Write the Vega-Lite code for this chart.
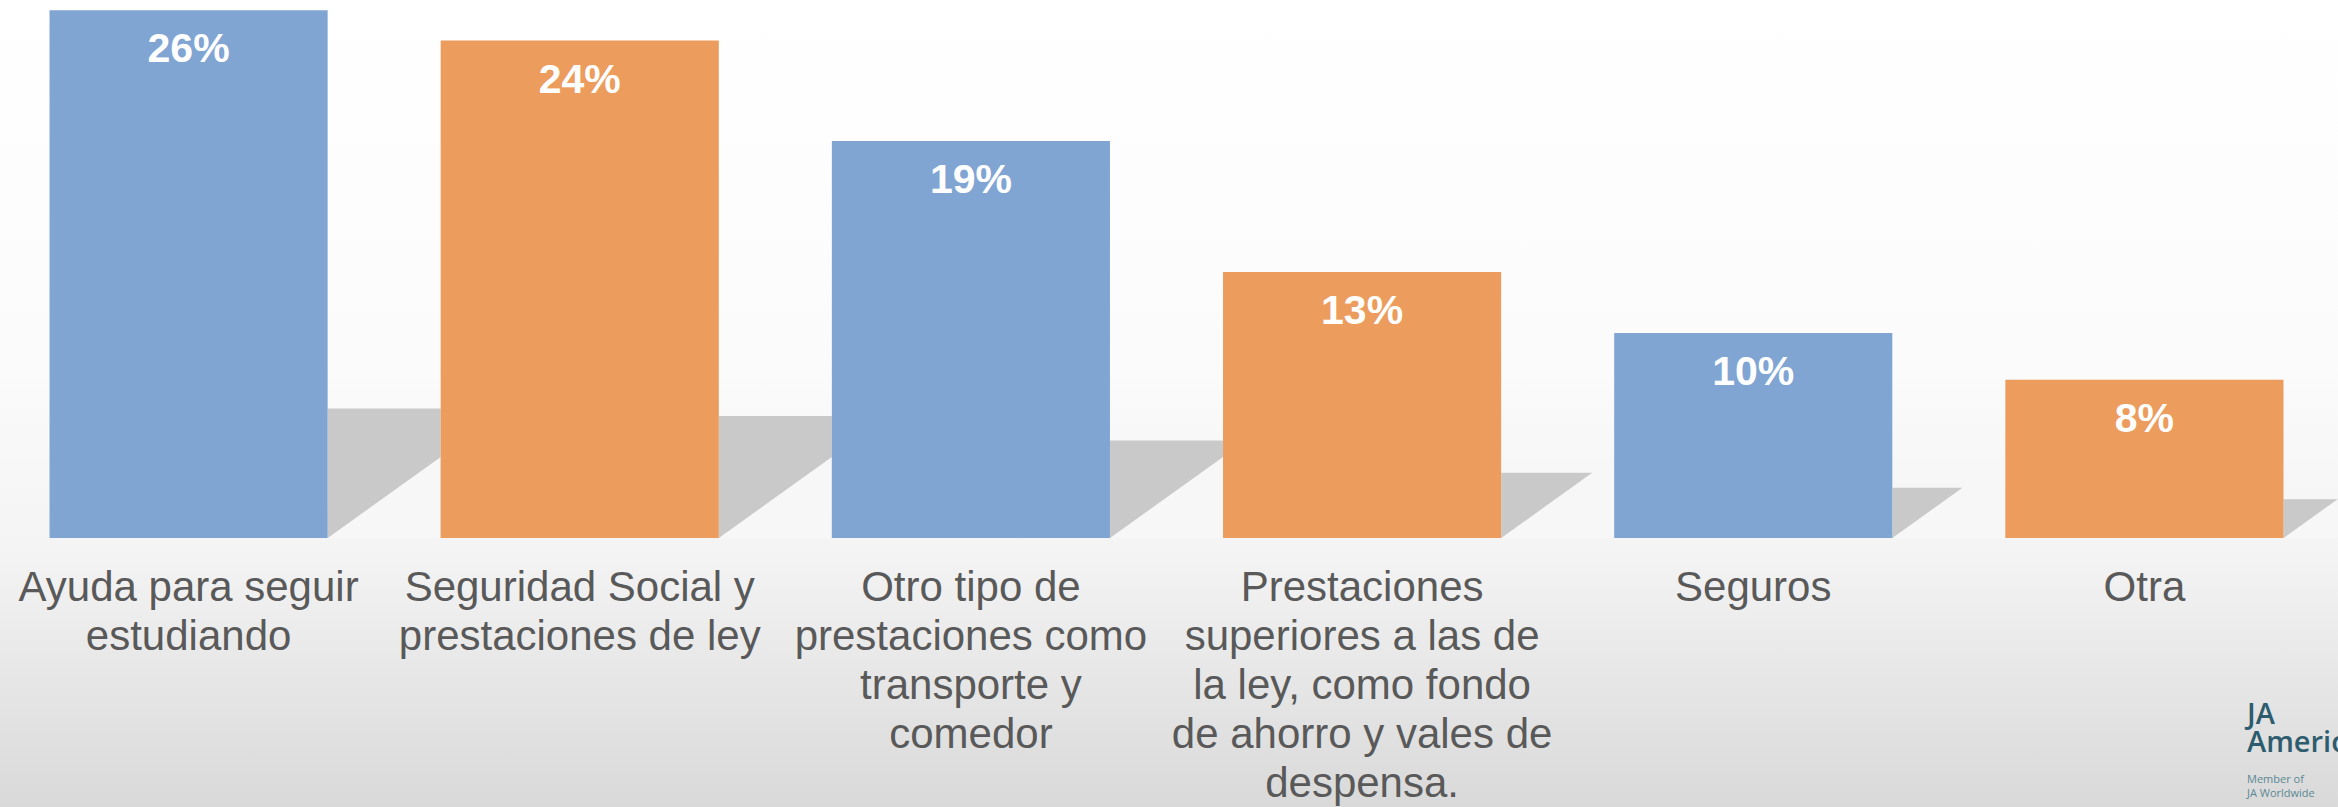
{
  "$schema": "https://vega.github.io/schema/vega-lite/v6.json",
  "width": 2347,
  "height": 807,
  "autosize": {"type": "none"},
  "padding": {"left": -7, "top": 0, "right": 0, "bottom": 0},
  "background": "#ffffff",
  "title": {
    "text": ["JA", "Americas"],
    "subtitle": ["Member of", "JA Worldwide"],
    "orient": "top",
    "anchor": "end",
    "frame": "group",
    "align": "left",
    "baseline": "alphabetic",
    "offset": 0,
    "dx": -93,
    "dy": 822,
    "font": "Open Sans",
    "fontSize": 29,
    "fontWeight": 600,
    "lineHeight": 28,
    "color": "#2d5c6e",
    "subtitleFont": "Open Sans",
    "subtitleFontSize": 11,
    "subtitleFontWeight": 500,
    "subtitleColor": "#5b8894",
    "subtitleLineHeight": 14,
    "subtitlePadding": 2
  },
  "config": {
    "view": {
      "stroke": null,
      "fill": {
        "gradient": "linear", "x1": 0, "y1": 0, "x2": 0, "y2": 1,
        "stops": [
          {"offset": 0, "color": "#ffffff"},
          {"offset": 0.45, "color": "#fbfbfb"},
          {"offset": 0.68, "color": "#f4f4f4"},
          {"offset": 1, "color": "#d9d9d9"}
        ]
      }
    }
  },
  "data": {
    "values": [
      {"category": "Ayuda para seguir|estudiando", "value": 26.0, "label": "26%"},
      {"category": "Seguridad Social y|prestaciones de ley", "value": 24.5, "label": "24%"},
      {"category": "Otro tipo de|prestaciones como|transporte y|comedor", "value": 19.55, "label": "19%"},
      {"category": "Prestaciones|superiores a las de|la ley, como fondo|de ahorro y vales de|despensa.", "value": 13.1, "label": "13%"},
      {"category": "Seguros", "value": 10.1, "label": "10%"},
      {"category": "Otra", "value": 7.8, "label": "8%"}
    ]
  },
  "encoding": {
    "x": {
      "field": "category",
      "type": "nominal",
      "sort": null,
      "scale": {"paddingInner": 0.289, "paddingOuter": 0.1445},
      "axis": {
        "title": null,
        "domain": false,
        "ticks": false,
        "offset": -269,
        "labelAngle": 0,
        "labelFont": "Liberation Sans",
        "labelFontSize": 42,
        "labelColor": "#595959",
        "labelPadding": 29,
        "labelBaseline": "top",
        "labelLineHeight": 49,
        "labelLimit": 500,
        "labelOverlap": false,
        "labelBound": false,
        "labelExpr": "split(datum.label, '|')"
      }
    }
  },
  "layer": [
    {
      "mark": {"type": "bar", "color": "#c9c9c9", "width": 113, "xOffset": 195.6},
      "encoding": {
        "y": {"field": "value", "type": "quantitative", "axis": null,
              "scale": {"domain": [0, 108], "range": [538, 0], "nice": false, "zero": true}}
      }
    },
    {
      "mark": {"type": "point", "shape": "M -1 1 L 1 1 L 1 -0.434 Z", "size": 12769, "filled": true,
               "color": "#f7f7f7", "opacity": 1, "strokeWidth": 0, "xOffset": 195.6, "yOffset": -56.5},
      "encoding": {
        "y": {"datum": 0, "type": "quantitative", "axis": null,
              "scale": {"domain": [0, 26.5], "range": [538, 0], "nice": false, "zero": true}}
      }
    },
    {
      "mark": {"type": "bar"},
      "encoding": {
        "y": {"field": "value", "type": "quantitative", "axis": null,
              "scale": {"domain": [0, 26.5], "range": [538, 0], "nice": false, "zero": true}},
        "color": {"field": "category", "type": "nominal", "sort": null, "legend": null,
                  "scale": {"range": ["#81a5d3", "#ec9c5c", "#81a5d3", "#ec9c5c", "#81a5d3", "#ec9c5c"]}}
      }
    },
    {
      "mark": {"type": "text", "color": "#ffffff", "font": "Liberation Sans", "fontSize": 41,
               "fontWeight": "bold", "baseline": "alphabetic", "dy": 52},
      "encoding": {
        "y": {"field": "value", "type": "quantitative", "axis": null,
              "scale": {"domain": [0, 26.5], "range": [538, 0], "nice": false, "zero": true}},
        "text": {"field": "label", "type": "nominal"}
      }
    }
  ],
  "resolve": {"scale": {"y": "independent"}}
}
